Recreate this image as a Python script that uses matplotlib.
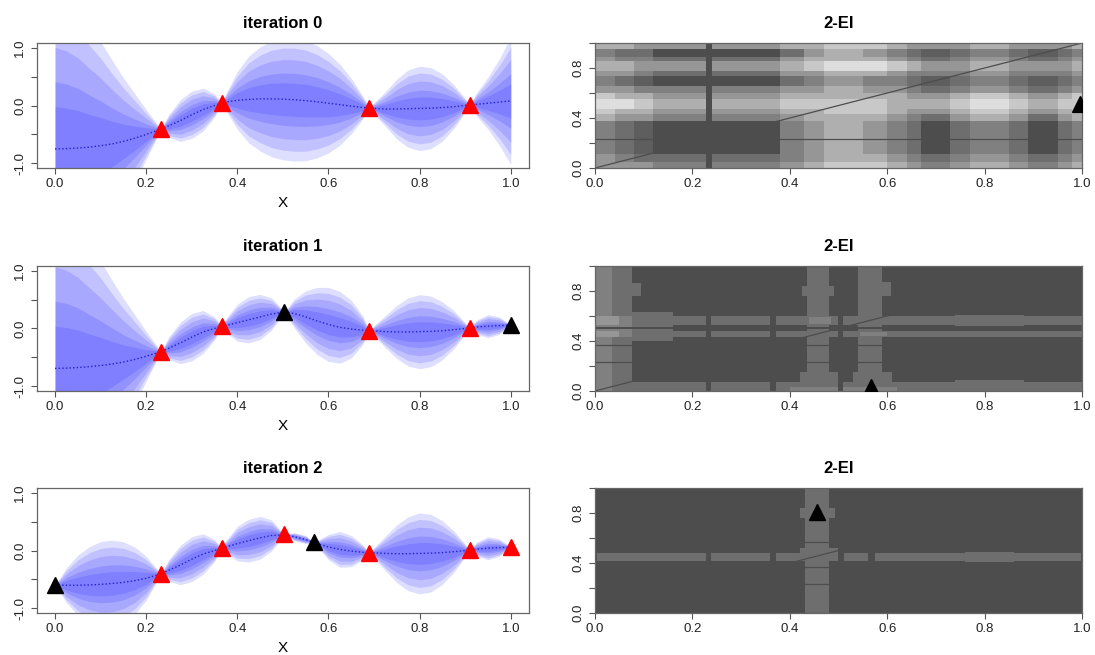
import numpy as np
import matplotlib
matplotlib.use('Agg')
import matplotlib.pyplot as plt
from matplotlib.patches import Rectangle
from matplotlib.colors import ListedColormap

plt.rcParams['font.family'] = ['Liberation Sans', 'DejaVu Sans']

# ---- GP panels (left column): mean and outer band half-width read on a 0.025 grid
x_grid = np.linspace(0, 1, 41)
band_z = [1.0, 0.84, 0.65, 0.43, 0.27]

mean0 = [-0.75, -0.745, -0.735, -0.72, -0.695, -0.665, -0.62, -0.565, -0.5, -0.43,
         -0.35, -0.26, -0.16, -0.07, 0.0, 0.06, 0.09, 0.105, 0.115, 0.115,
         0.11, 0.1, 0.085, 0.065, 0.04, 0.015, -0.01, -0.035, -0.05, -0.06,
         -0.06, -0.055, -0.05, -0.045, -0.035, -0.02, 0.0, 0.02, 0.04, 0.06,
         0.08]
halfw0 = [2.7, 2.6, 2.4, 2.1, 1.8, 1.45, 1.1, 0.77, 0.43, 0.1,
          0.2, 0.36, 0.41, 0.37, 0.2, 0.15, 0.5, 0.75, 0.9, 1.0,
          1.05, 1.06, 1.04, 0.97, 0.86, 0.7, 0.48, 0.2, 0.1, 0.3,
          0.52, 0.67, 0.73, 0.7, 0.58, 0.38, 0.12, 0.2, 0.45, 0.75,
          1.1]
mean1 = [-0.69, -0.685, -0.675, -0.66, -0.64, -0.615, -0.58, -0.535, -0.48, -0.42,
         -0.34, -0.25, -0.15, -0.06, 0.0, 0.05, 0.1, 0.15, 0.2, 0.25,
         0.28, 0.26, 0.2, 0.13, 0.07, 0.02, -0.01, -0.03, -0.04, -0.055,
         -0.06, -0.06, -0.055, -0.05, -0.04, -0.02, 0.0, 0.025, 0.04, 0.05,
         0.06]
halfw1 = [2.7, 2.6, 2.4, 2.1, 1.8, 1.45, 1.1, 0.77, 0.43, 0.1,
          0.2, 0.36, 0.41, 0.37, 0.2, 0.12, 0.32, 0.4, 0.39, 0.28,
          0.04, 0.25, 0.45, 0.58, 0.64, 0.62, 0.5, 0.25, 0.09, 0.28,
          0.46, 0.59, 0.64, 0.61, 0.5, 0.33, 0.1, 0.12, 0.2, 0.15,
          0.0]
mean2 = [-0.6, -0.6, -0.6, -0.595, -0.585, -0.57, -0.55, -0.52, -0.48, -0.42,
         -0.34, -0.25, -0.15, -0.06, 0.0, 0.06, 0.12, 0.17, 0.22, 0.26,
         0.27, 0.24, 0.19, 0.12, 0.06, 0.02, -0.01, -0.03, -0.04, -0.05,
         -0.055, -0.055, -0.05, -0.045, -0.035, -0.02, 0.0, 0.025, 0.04, 0.05,
         0.06]
halfw2 = [0.0, 0.3, 0.52, 0.66, 0.74, 0.75, 0.7, 0.58, 0.38, 0.09,
          0.19, 0.34, 0.39, 0.35, 0.19, 0.11, 0.3, 0.37, 0.37, 0.27,
          0.03, 0.07, 0.07, 0.05, 0.22, 0.31, 0.27, 0.13, 0.09, 0.3,
          0.5, 0.64, 0.7, 0.67, 0.55, 0.36, 0.11, 0.12, 0.2, 0.15,
          0.0]

red0_x = [0.233, 0.366, 0.69, 0.91]
red0_y = [-0.40, 0.04, -0.04, 0.01]
black0_x, black0_y = [], []
red1_x = [0.233, 0.366, 0.69, 0.91]
red1_y = [-0.40, 0.04, -0.04, 0.01]
black1_x = [0.503, 1.0]
black1_y = [0.28, 0.065]
red2_x = [0.233, 0.366, 0.503, 0.69, 0.91, 1.0]
red2_y = [-0.40, 0.04, 0.28, -0.04, 0.01, 0.065]
black2_x = [0.0, 0.568]
black2_y = [-0.6, 0.14]

# ---- 2-EI panels (right column)
gray_levels = ['#4d4d4d', '#5e5e5e', '#6e6e6e', '#808080',
               '#969696', '#afafaf', '#c8c8c8', '#dedede']

ei0_xedges = [0, 0.04, 0.08, 0.12, 0.228, 0.24, 0.38, 0.43, 0.47, 0.55, 0.6,
              0.64, 0.67, 0.73, 0.77, 0.85, 0.89, 0.95, 0.98, 1.0]
ei0_yedges = [0, 0.05, 0.11, 0.38, 0.43, 0.47, 0.55, 0.6, 0.66, 0.74,
              0.78, 0.86, 0.89, 0.95, 1.0]
ei0_rows = [  # bottom to top
    "4443034566543454345",
    "4322023455432343234",
    "3210003454320232023",
    "5443034555432454245",
    "6554045566544565456",
    "7765056666555676566",
    "6554045555544565456",
    "4433034454432343234",
    "3210002343321232123",
    "4432024455433343334",
    "5544045677654454445",
    "4332024555432343234",
    "3220002454321232123",
    "5544045566544454445",
]
ei0_lines = [0.233]
ei0_pt = (0.995, 0.51)

# regions painted over a darkest background: (x0, x1, y0, y1, level)
ei1_rects = [
    (0.0, 0.035, 0.0, 1.0, 3),
    (0.035, 0.076, 0.0, 1.0, 2),
    (0.076, 0.094, 0.76, 0.86, 2),
    (0.076, 1.0, 0.0, 0.07, 2),
    (0.74, 0.88, 0.0, 0.09, 2),
    (0.076, 1.0, 0.525, 0.60, 2),
    (0.076, 1.0, 0.43, 0.48, 2),
    (0.076, 0.16, 0.40, 0.63, 2),
    (0.74, 0.88, 0.52, 0.61, 2),
    (0.435, 0.48, 0.0, 1.0, 2),
    (0.425, 0.49, 0.76, 0.84, 2),
    (0.42, 0.50, 0.0, 0.15, 2),
    (0.54, 0.59, 0.0, 1.0, 2),
    (0.54, 0.608, 0.76, 0.87, 2),
    (0.53, 0.61, 0.0, 0.15, 2),
    (0.035, 0.076, 0.43, 0.60, 3),
    (0.0, 0.05, 0.53, 0.60, 4),
    (0.0, 0.05, 0.43, 0.48, 4),
    (0.44, 0.485, 0.535, 0.59, 3),
    (0.545, 0.60, 0.44, 0.475, 3),
    (0.40, 0.62, 0.0, 0.035, 3),
    (0.0, 1.0, 0.495, 0.51, 0),
    (0.227, 0.239, 0.0, 1.0, 0),
    (0.36, 0.372, 0.0, 1.0, 0),
    (0.498, 0.51, 0.0, 1.0, 0),
]
ei1_lines = [0.233, 0.366]
ei1_pt = (0.566, 0.03)

ei2_rects = [
    (0.431, 0.481, 0.0, 0.99, 2),
    (0.421, 0.492, 0.76, 0.84, 2),
    (0.005, 0.997, 0.42, 0.477, 2),
    (0.76, 0.86, 0.41, 0.49, 2),
    (0.42, 0.50, 0.42, 0.52, 2),
    (0.227, 0.239, 0.40, 0.50, 0),
    (0.36, 0.372, 0.40, 0.50, 0),
    (0.50, 0.512, 0.40, 0.50, 0),
    (0.56, 0.574, 0.40, 0.50, 0),
]
ei2_lines = [0.233, 0.366, 0.568]
ei2_pt = (0.456, 0.81)

x_ticks = [0, 0.2, 0.4, 0.6, 0.8, 1.0]
x_labels = ['0.0', '0.2', '0.4', '0.6', '0.8', '1.0']
gp_yticks = [-1, -0.5, 0, 0.5, 1]
gp_ylabels = ['-1.0', '', '0.0', '', '1.0']
ei_yticks = [0, 0.2, 0.4, 0.6, 0.8, 1.0]
ei_ylabels = ['0.0', '', '0.4', '', '0.8', '']

fig = plt.figure(figsize=(10.95, 6.55), dpi=100)
rows_bottom = [0.7435, 0.4031, 0.0641]
row_h = 0.1908


def style(ax):
    for s in ax.spines.values():
        s.set_color('#666666')
        s.set_linewidth(0.9)
    ax.tick_params(direction='out', length=4.5, width=0.8, color='#555555',
                   labelsize=9.5, labelcolor='#222222', pad=3)


def draw_gp(ax, mean, halfw, rx, ry, bx, by, title):
    xs = np.concatenate([x_grid, rx, bx])
    ms = np.concatenate([mean, ry, by])
    hs = np.concatenate([halfw, np.zeros(len(rx) + len(bx))])
    order = np.argsort(xs, kind='stable')
    xs, ms, hs = xs[order], ms[order], hs[order]
    for z in band_z:
        ax.fill_between(xs, ms - z * hs, ms + z * hs, color='blue', alpha=0.13, lw=0)
    ax.plot(xs, ms, color='#2020d0', lw=1.0, ls=(0, (1, 1.6)))
    ax.plot(rx, ry, '^', color='red', ms=11, zorder=5)
    if len(bx):
        ax.plot(bx, by, '^', color='black', ms=11, zorder=5)
    ax.set_xlim(-0.04, 1.04)
    ax.set_ylim(-1.08, 1.08)
    ax.set_xticks(x_ticks)
    ax.set_xticklabels(x_labels)
    ax.set_yticks(gp_yticks)
    ax.set_yticklabels(gp_ylabels, rotation=90, va='center')
    ax.set_xlabel('X', fontsize=11, labelpad=4)
    ax.set_title(title, fontsize=12, fontweight='bold', pad=11)
    style(ax)


def draw_ei(ax, pt, lines, rects=None, grid=None):
    cmap = ListedColormap(gray_levels)
    if grid is not None:
        xe, ye, rows = grid
        lev = np.array([[int(c) for c in r] for r in rows])
        ax.pcolormesh(xe, ye, lev, cmap=cmap, vmin=-0.5, vmax=7.5, shading='flat')
    else:
        ax.add_patch(Rectangle((0, 0), 1, 1, color=gray_levels[0], lw=0))
        for x0, x1, y0, y1, lv in rects:
            ax.add_patch(Rectangle((x0, y0), x1 - x0, y1 - y0, color=gray_levels[lv], lw=0))
    # thin lines in the darkest level: only show where the surface is lighter
    for y in lines:
        ax.plot([0, 1], [y, y], color=gray_levels[0], lw=0.9)
    ax.plot([0, 1], [0, 1], color=gray_levels[0], lw=0.9)
    ax.plot([pt[0]], [pt[1]], '^', color='black', ms=11, zorder=5)
    ax.set_xlim(0, 1)
    ax.set_ylim(0, 1)
    ax.set_xticks(x_ticks)
    ax.set_xticklabels(x_labels)
    ax.set_yticks(ei_yticks)
    ax.set_yticklabels(ei_ylabels, rotation=90, va='center')
    ax.set_title('2-EI', fontsize=12, fontweight='bold', pad=11)
    style(ax)


gp_data = [(mean0, halfw0, red0_x, red0_y, black0_x, black0_y),
           (mean1, halfw1, red1_x, red1_y, black1_x, black1_y),
           (mean2, halfw2, red2_x, red2_y, black2_x, black2_y)]

for i in range(3):
    axl = fig.add_axes([0.0336, rows_bottom[i], 0.4495, row_h])
    m, h, rx, ry, bx, by = gp_data[i]
    draw_gp(axl, m, h, rx, ry, bx, by, 'iteration %d' % i)
    axr = fig.add_axes([0.5434, rows_bottom[i], 0.4447, row_h])
    if i == 0:
        draw_ei(axr, ei0_pt, ei0_lines, grid=(ei0_xedges, ei0_yedges, ei0_rows))
    elif i == 1:
        draw_ei(axr, ei1_pt, ei1_lines, rects=ei1_rects)
    else:
        draw_ei(axr, ei2_pt, ei2_lines, rects=ei2_rects)

fig.savefig('out.png', dpi=100)
